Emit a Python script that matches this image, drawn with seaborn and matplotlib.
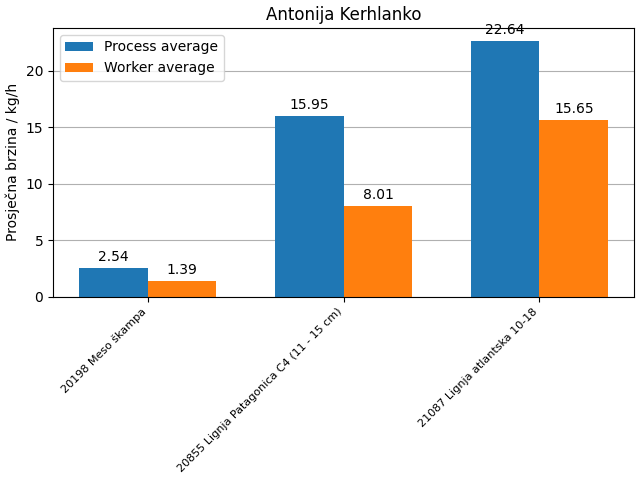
import numpy as np
import pandas as pd
import matplotlib
matplotlib.use("Agg")
import matplotlib.pyplot as plt
import seaborn as sns

products = ["20198 Meso škampa", "20855 Lignja Patagonica C4 (11 - 15 cm)", "21087 Lignja atlantska 10-18"]
process_avg = [2.54, 15.95, 22.64]
worker_avg = [1.39, 8.01, 15.65]
series = ["Process average", "Worker average"]

df = pd.DataFrame({
    "product": products * 2,
    "speed": process_avg + worker_avg,
    "series": [series[0]] * 3 + [series[1]] * 3,
})

fig, ax = plt.subplots(figsize=(6.4, 4.8), dpi=100)
sns.barplot(data=df, x="product", y="speed", hue="series", order=products,
            hue_order=series, palette=["#1f77b4", "#ff7f0e"], saturation=1,
            width=0.7, ax=ax, linewidth=0, edgecolor="none")

for cont in ax.containers:
    ax.bar_label(cont, fmt="%.2f", padding=3)

ax.set_xlim(-0.485, 2.485)
ax.set_title("Antonija Kerhlanko")
ax.set_ylabel("Prosječna brzina / kg/h")
ax.set_xlabel("")
ax.set_xticks(range(len(products)))
ax.set_xticklabels(products, rotation=45, ha="right", fontsize=8)
ax.yaxis.grid(True, color="#b0b0b0")
ax.set_axisbelow(True)
ax.legend(loc="upper left")

fig.tight_layout(pad=0.4)
fig.savefig("out.png")
